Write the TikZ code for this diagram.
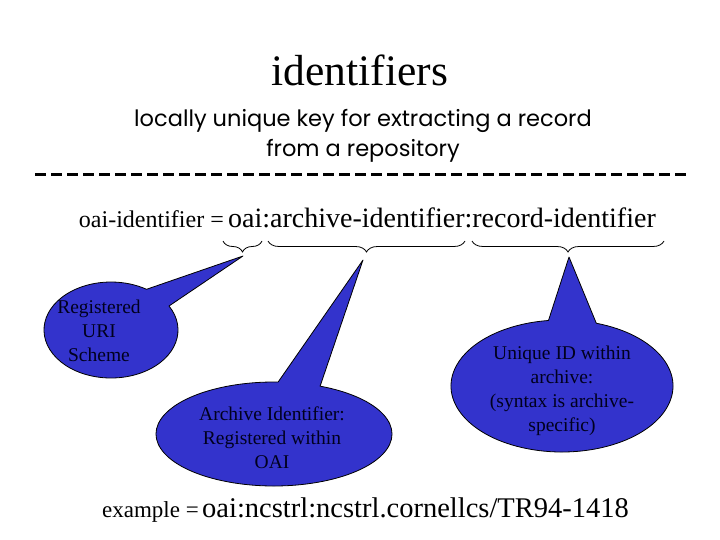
\documentclass[tikz,border=0pt]{standalone}
\usepackage{fontspec}
\setmainfont{Liberation Serif}
\newfontfamily\comicfont{Poppins}
\usetikzlibrary{decorations.pathreplacing}
\definecolor{calloutblue}{RGB}{51,51,204}
\definecolor{callouttext}{RGB}{0,0,30}
\begin{document}
\begin{tikzpicture}[x=1pt,y=1pt,
  calloutshape/.style={fill=calloutblue, draw=black, line width=0.8pt, line join=round},
  callouttxt/.style={align=center, text=callouttext, inner sep=0pt,
    font=\color{callouttext}\fontsize{19.5}{24}\selectfont},
  bracestyle/.style={decorate, decoration={brace, amplitude=11pt}, line width=0.8pt},
  dashrule/.style={line width=3pt, dash pattern=on 10.5pt off 5.5pt},
  smalltxt/.style={inner sep=0pt, font=\fontsize{24}{28}\selectfont},
  exsmalltxt/.style={inner sep=0pt, font=\fontsize{23}{28}\selectfont},
  bigtxt/.style={inner sep=0pt, font=\fontsize{28}{32}\selectfont},
  exbigtxt/.style={inner sep=0pt, font=\fontsize{28.5}{32}\selectfont}]
\useasboundingbox (0,0) rectangle (720,-540);

% title and subtitle
\node[anchor=base, inner sep=0pt, font=\fontsize{43.5}{48}\selectfont] (title) at (360,-86) {identifiers};
\node[align=center, inner sep=0pt, font=\comicfont\fontsize{22.5}{30}\selectfont] (sub) at (363,-136)
  {locally unique key for extracting a record\\from a repository};

% dashed rule
\coordinate (dl) at (35,-175);
\coordinate (dr) at (688,-175);
\draw[dashrule] (dl) -- (dr);

% identifier syntax
\node[smalltxt, anchor=base east] (lhs) at (224,-228) {oai-identifier =};
\node[bigtxt, anchor=base west] (rhs) at (228,-228) {oai:archive-identifier:record-identifier};

% braces
\coordinate (b1l) at (223,-241);
\coordinate (b1r) at (262,-241);
\coordinate (b2l) at (268,-241);
\coordinate (b2r) at (465,-241);
\coordinate (b3l) at (472,-241);
\coordinate (b3r) at (664,-241);
\draw[bracestyle] (b1r) -- (b1l);
\draw[bracestyle] (b2r) -- (b2l);
\draw[bracestyle] (b3r) -- (b3l);

% callouts
\coordinate (c1) at (111,-330);
\coordinate (tip1) at (243,-256);
\filldraw[calloutshape] (tip1) -- ([shift={(c1)}]30:67 and 48)
  arc[start angle=30, end angle=-302, x radius=67, y radius=48] -- cycle;
\node[callouttxt] (t1) at (99,-331) {Registered\\URI\\Scheme};

\coordinate (c2) at (274,-434);
\coordinate (tip2) at (363,-260);
\filldraw[calloutshape] (tip2) -- ([shift={(c2)}]67:118 and 52)
  arc[start angle=67, end angle=-272, x radius=118, y radius=52] -- cycle;
\node[callouttxt] (t2) at (272,-438) {Archive Identifier:\\Registered within\\OAI};

\coordinate (c3) at (562,-386);
\coordinate (tip3) at (569,-257);
\filldraw[calloutshape] (tip3) -- ([shift={(c3)}]72:111 and 66)
  arc[start angle=72, end angle=-263, x radius=111, y radius=66] -- cycle;
\node[callouttxt] (t3) at (562,-391) {Unique ID within\\archive:\\(syntax is archive-\\specific)};

% example
\node[exsmalltxt, anchor=base east] (exl) at (199,-517) {example =};
\node[exbigtxt, anchor=base west] (exr) at (202,-517) {oai:ncstrl:ncstrl.cornellcs/TR94-1418};
\end{tikzpicture}
\end{document}
